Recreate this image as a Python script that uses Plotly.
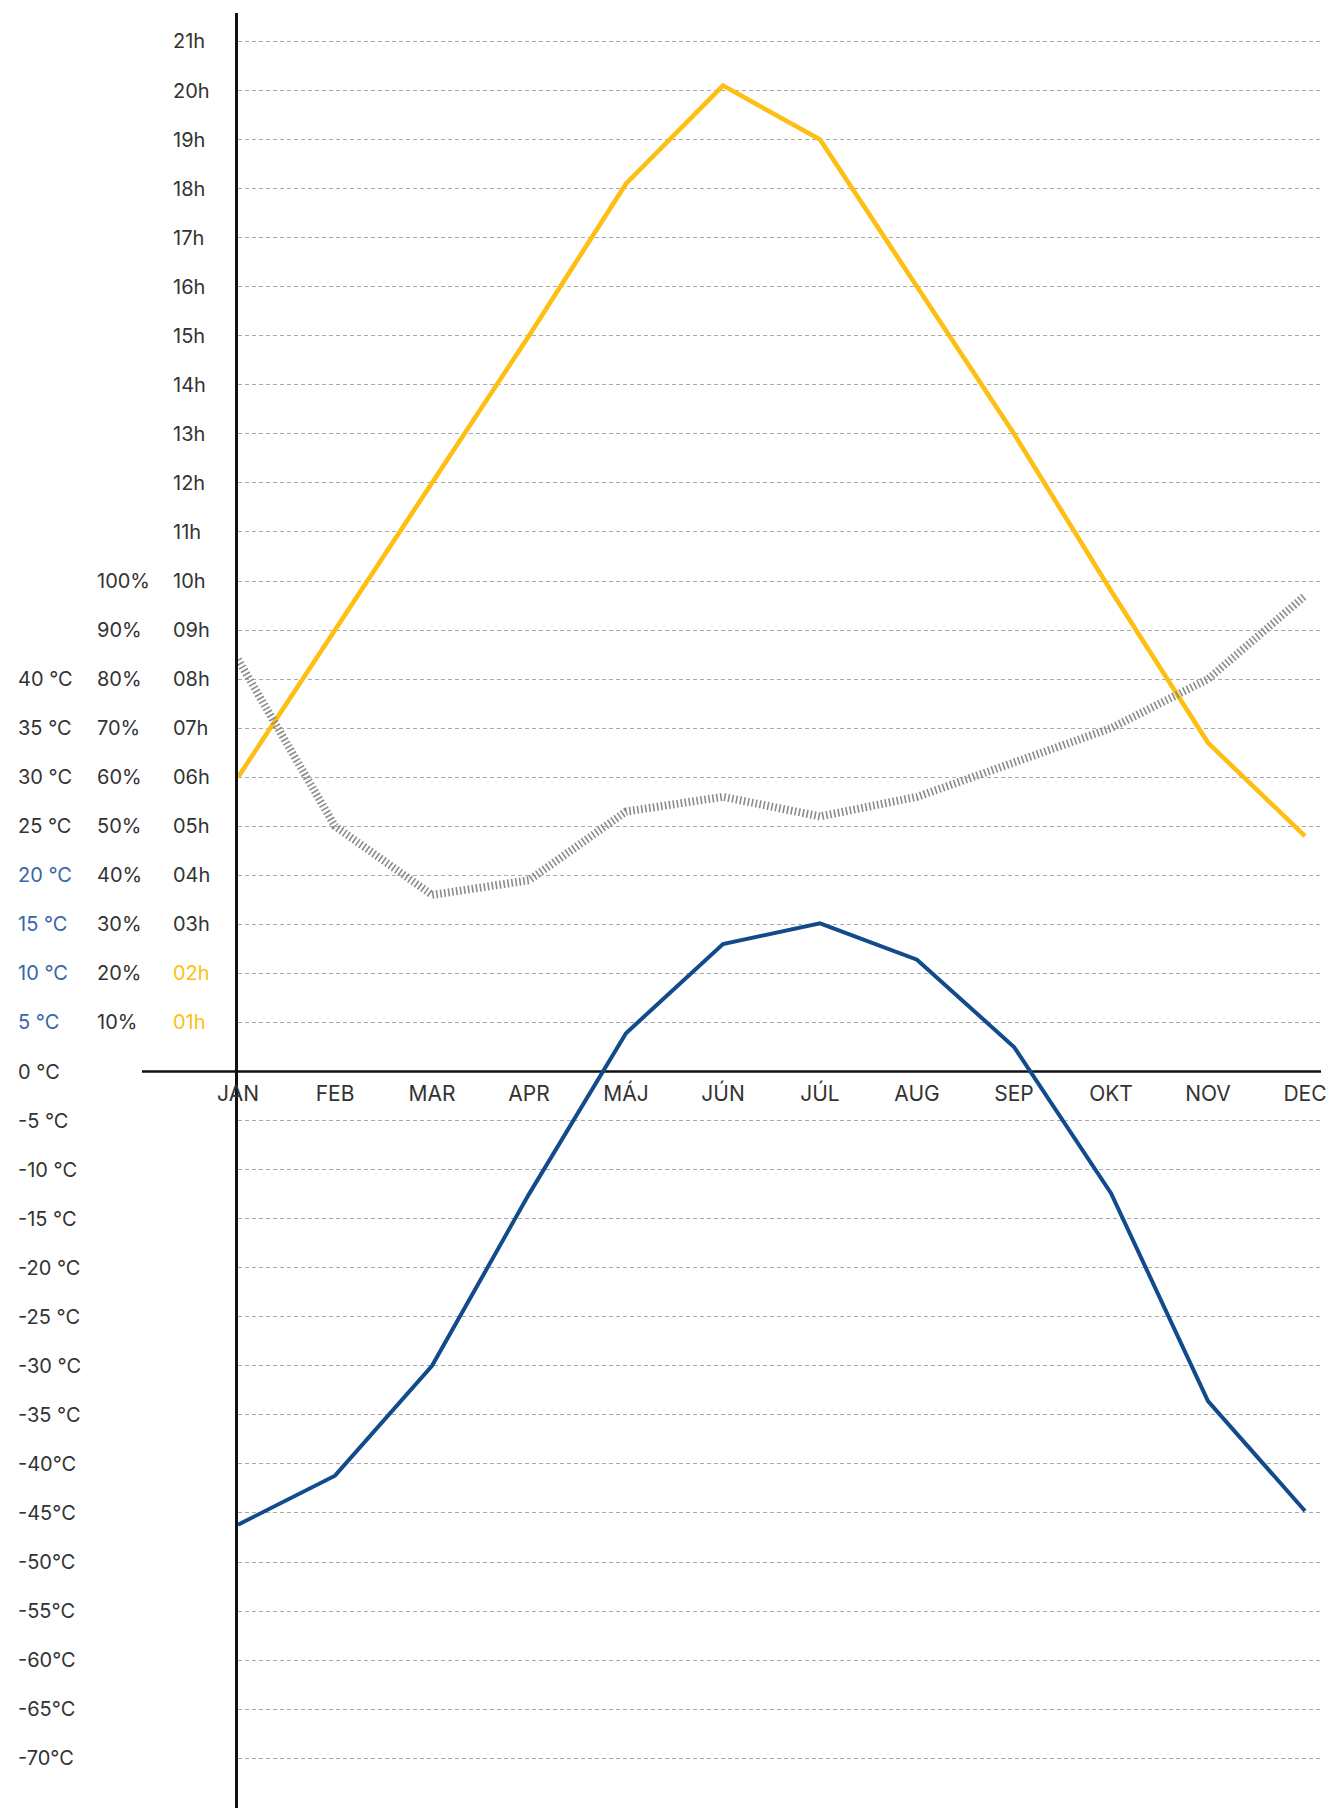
import plotly.graph_objects as go

# ---------------- data ----------------
months = ["JAN", "FEB", "MAR", "APR", "MÁJ", "JÚN", "JÚL", "AUG", "SEP", "OKT", "NOV", "DEC"]
daylight_hours = [6.0, 9.0, 12.0, 15.0, 18.1, 20.1, 19.0, 16.0, 13.0, 9.8, 6.7, 4.8]
humidity_pct = [84, 50, 36, 39, 53, 56, 52, 56, 63, 70, 80, 97]
temperature_c = [-46.2, -41.2, -30.0, -12.5, 3.9, 13.0, 15.1, 11.4, 2.5, -12.4, -33.6, -44.8]

hour_ticks = [1, 2, 3, 4, 5, 6, 7, 8, 9, 10, 11, 12, 13, 14, 15, 16, 17, 18, 19, 20, 21]
hour_labels = ["01h", "02h", "03h", "04h", "05h", "06h", "07h", "08h", "09h", "10h", "11h",
               "12h", "13h", "14h", "15h", "16h", "17h", "18h", "19h", "20h", "21h"]
hour_highlight = ["01h", "02h"]

pct_ticks = [10, 20, 30, 40, 50, 60, 70, 80, 90, 100]
pct_labels = ["10%", "20%", "30%", "40%", "50%", "60%", "70%", "80%", "90%", "100%"]

temp_ticks = [40, 35, 30, 25, 20, 15, 10, 5, 0, -5, -10, -15, -20, -25, -30, -35,
              -40, -45, -50, -55, -60, -65, -70]
temp_labels = ["40 °C", "35 °C", "30 °C", "25 °C", "20 °C", "15 °C", "10 °C", "5 °C", "0 °C",
               "-5 °C", "-10 °C", "-15 °C", "-20 °C", "-25 °C", "-30 °C", "-35 °C",
               "-40°C", "-45°C", "-50°C", "-55°C", "-60°C", "-65°C", "-70°C"]
temp_highlight = ["20 °C", "15 °C", "10 °C", "5 °C"]

grid_steps = [-15, -14, -13, -12, -11, -10, -9, -8, -7, -6, -5, -4, -3, -2, -1,
              1, 2, 3, 4, 5, 6, 7, 8, 9, 10, 11, 12, 13, 14, 15, 16, 17, 18, 19, 20, 21]

# ---------------- style ----------------
W, H = 1338, 1808
TOP = 13
STEP_PX = 49.05
ZERO_PX = 1071.5
AXIS_X = 238
RIGHT_X = 1321
MONTH_PX = 97.0
FONT = "Inter"
TXT = "#333333"
YELLOW = "#FDBF12"
BLUE = "#114B8B"
BLUE_TXT = "#3A66A6"
GRAY = "#8a8a8a"

hi = (ZERO_PX - TOP) / STEP_PX
lo = -(H - ZERO_PX) / STEP_PX
x_hi = (RIGHT_X - AXIS_X) / MONTH_PX


def colored(labels, highlight, color):
    return [f"<span style='color:{color}'>{t}</span>" if t in highlight else t for t in labels]


fig = go.Figure()

fig.add_trace(go.Scatter(
    x=list(range(len(months))), y=humidity_pct, yaxis="y2", mode="lines",
    line=dict(color=GRAY, width=8, dash="1.6px,2.4px"), hoverinfo="skip", name="Páratartalom"))
fig.add_trace(go.Scatter(
    x=list(range(len(months))), y=daylight_hours, yaxis="y", mode="lines",
    line=dict(color=YELLOW, width=4.6), hoverinfo="skip", name="Napfény"))
fig.add_trace(go.Scatter(
    x=list(range(len(months))), y=temperature_c, yaxis="y3", mode="lines",
    line=dict(color=BLUE, width=4), hoverinfo="skip", name="Hőmérséklet"))

label_font = dict(family=FONT, size=20, color=TXT)
month_font = dict(family=FONT, size=21, color=TXT)

free_y = dict(overlaying="y", anchor="free", side="left", ticklabelposition="inside",
              ticklabeloverflow="allow", ticks="", showgrid=False, zeroline=False,
              showline=False, tickfont=label_font, automargin=False)

fig.update_layout(
    template="none",
    width=W, height=H,
    margin=dict(l=0, r=0, t=TOP, b=0, pad=0, autoexpand=False),
    paper_bgcolor="white", plot_bgcolor="white",
    showlegend=False,
    font=dict(family=FONT, size=20, color=TXT),
    xaxis=dict(
        domain=[AXIS_X / W, RIGHT_X / W], range=[0, x_hi],
        tickvals=list(range(len(months))), ticktext=months,
        anchor="free", position=(0 - lo) / (hi - lo),
        showline=False, showgrid=False, zeroline=False, ticks="",
        ticklabelstandoff=7, tickfont=month_font, automargin=False,
    ),
    yaxis=dict(
        range=[lo, hi], anchor="x", side="left",
        tickvals=grid_steps, showticklabels=False, ticks="",
        showgrid=True, gridcolor="#a9a9a9", gridwidth=1, griddash="4px,3px",
        zeroline=False, showline=True, linecolor="#111111", linewidth=2.6,
        automargin=False,
    ),
    yaxis2=dict(range=[lo * 10, hi * 10], position=93 / W,
                tickvals=pct_ticks, ticktext=pct_labels, **free_y),
    yaxis3=dict(range=[lo * 5, hi * 5], position=14 / W, tickvals=temp_ticks,
                ticktext=colored(temp_labels, temp_highlight, BLUE_TXT), **free_y),
    yaxis4=dict(range=[lo, hi], position=169 / W, tickvals=hour_ticks,
                ticktext=colored(hour_labels, hour_highlight, YELLOW), **free_y),
    shapes=[dict(type="line", xref="paper", yref="y", x0=142 / W, x1=RIGHT_X / W,
                 y0=0, y1=0, layer="below", line=dict(color="#111111", width=2.6))],
)

# invisible trace to activate the hour label axis
fig.add_trace(go.Scatter(x=[0], y=[0], yaxis="y4", mode="markers",
                         marker=dict(opacity=0), hoverinfo="skip", showlegend=False))

fig.write_html("out.html", config={"displayModeBar": False},
               post_script="document.body.style.margin='0';document.body.style.overflow='hidden';")
